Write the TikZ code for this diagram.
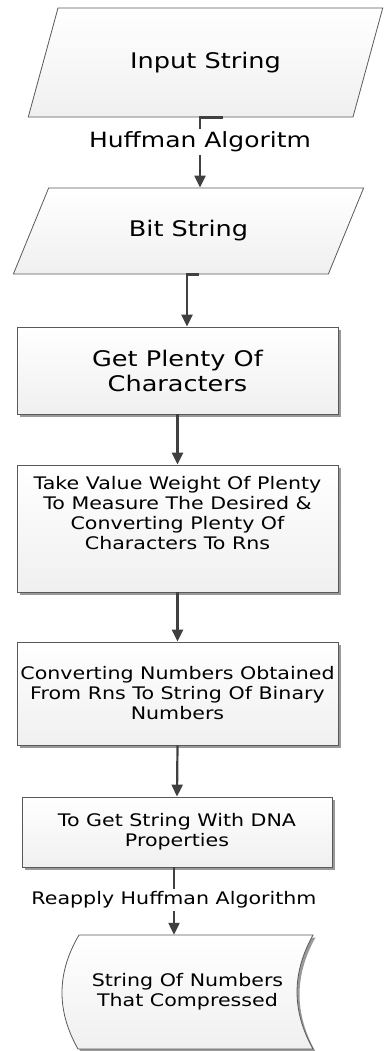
\documentclass[tikz,border=0pt]{standalone}
\usepackage{fontspec}
\setmainfont{DejaVu Sans}[FakeStretch=1.19]
\usetikzlibrary{shapes.geometric,arrows.meta,shadows}
\newcommand{\bigtxt}{\fontsize{21.5}{25}\selectfont}
\newcommand{\smalltxt}{\fontsize{17.3}{20}\selectfont}
\begin{document}
\begin{tikzpicture}[x=1pt,y=-1pt,
		shadebox/.style={top color=white,bottom color=black!6,draw=black!65,line width=.8pt},
		io/.style={shadebox,trapezium,trapezium left angle=60,trapezium right angle=120,trapezium stretches=true,font=\bigtxt},
		proc/.style={shadebox,rectangle,align=center,inner xsep=1pt,drop shadow={shadow xshift=2.5pt,shadow yshift=-2.5pt,fill=black!40,opacity=1}},
		flowline/.style={draw=black!75,line width=2.2pt},
		flow/.style={flowline,-{Triangle[width=11pt,length=12pt]}},
		lbl/.style={inner sep=2.5pt}]
	\useasboundingbox (0,0) rectangle (385,1051);
	\node[io,minimum width=355,minimum height=109] (in) at (205.5,62.5)
		{Input String};
	\node[io,minimum width=351,minimum height=86] (bit) at (188.5,231)
		{Bit String};
	\node[proc,font=\bigtxt,minimum width=321,minimum height=87] (get) at (177.5,370.5)
		{Get Plenty Of\\Characters};
	\node[proc,font=\smalltxt,minimum width=321,minimum height=127] (take) at (177.5,528.5)
		{Take Value Weight Of Plenty\\To Measure The Desired \&\\Converting Plenty Of\\Characters To Rns\rule[-31pt]{0pt}{0pt}};
	\node[proc,font=\smalltxt,minimum width=321,minimum height=103] (conv) at (177.5,693.5)
		{Converting Numbers Obtained\\From Rns To String Of Binary\\Numbers};
	\node[proc,font=\smalltxt,minimum width=310,minimum height=70] (dna) at (177,832)
		{To Get String With DNA\\Properties};
	\draw[shadebox,drop shadow={shadow xshift=2.5pt,shadow yshift=-2.5pt,fill=black!40,opacity=1}]
		(79,935) -- (313,935) .. controls (291.7,973) and (291.7,1011) .. (313,1049)
		-- (78,1049) .. controls (56.5,1011) and (56.5,973) .. (79,935) -- cycle;
	\node[font=\smalltxt,align=center,minimum width=251,minimum height=114] (out) at (187.5,992)
		{String Of Numbers\\That Compressed};
	\node[lbl,font=\fontsize{21}{25}\selectfont] (hm) at (200,142) {Huffman Algoritm};
	\node[lbl,font=\smalltxt] (rh) at (174,900) {Reapply Huffman Algorithm};
	\coordinate (k2) at ([xshift=9.5pt]get.north);
	\draw[flowline] (in.south -| hm) ++(23,0) -- (in.south -| hm) -- (hm.north);
	\draw[flow] (hm.south) -- (bit.north -| hm);
	\draw[flow] (k2 |- bit.south) ++(12,0) -- (k2 |- bit.south) -- (k2);
	\draw[flow] (get.south) -- (take.north);
	\draw[flow] (take.south) -- (conv.north);
	\draw[flow] (conv.south) -- (dna.north);
	\draw[flowline] (dna.south -| rh) -- (rh.north);
	\draw[flow] (rh.south) -- (out.north -| rh);
\end{tikzpicture}
\end{document}
